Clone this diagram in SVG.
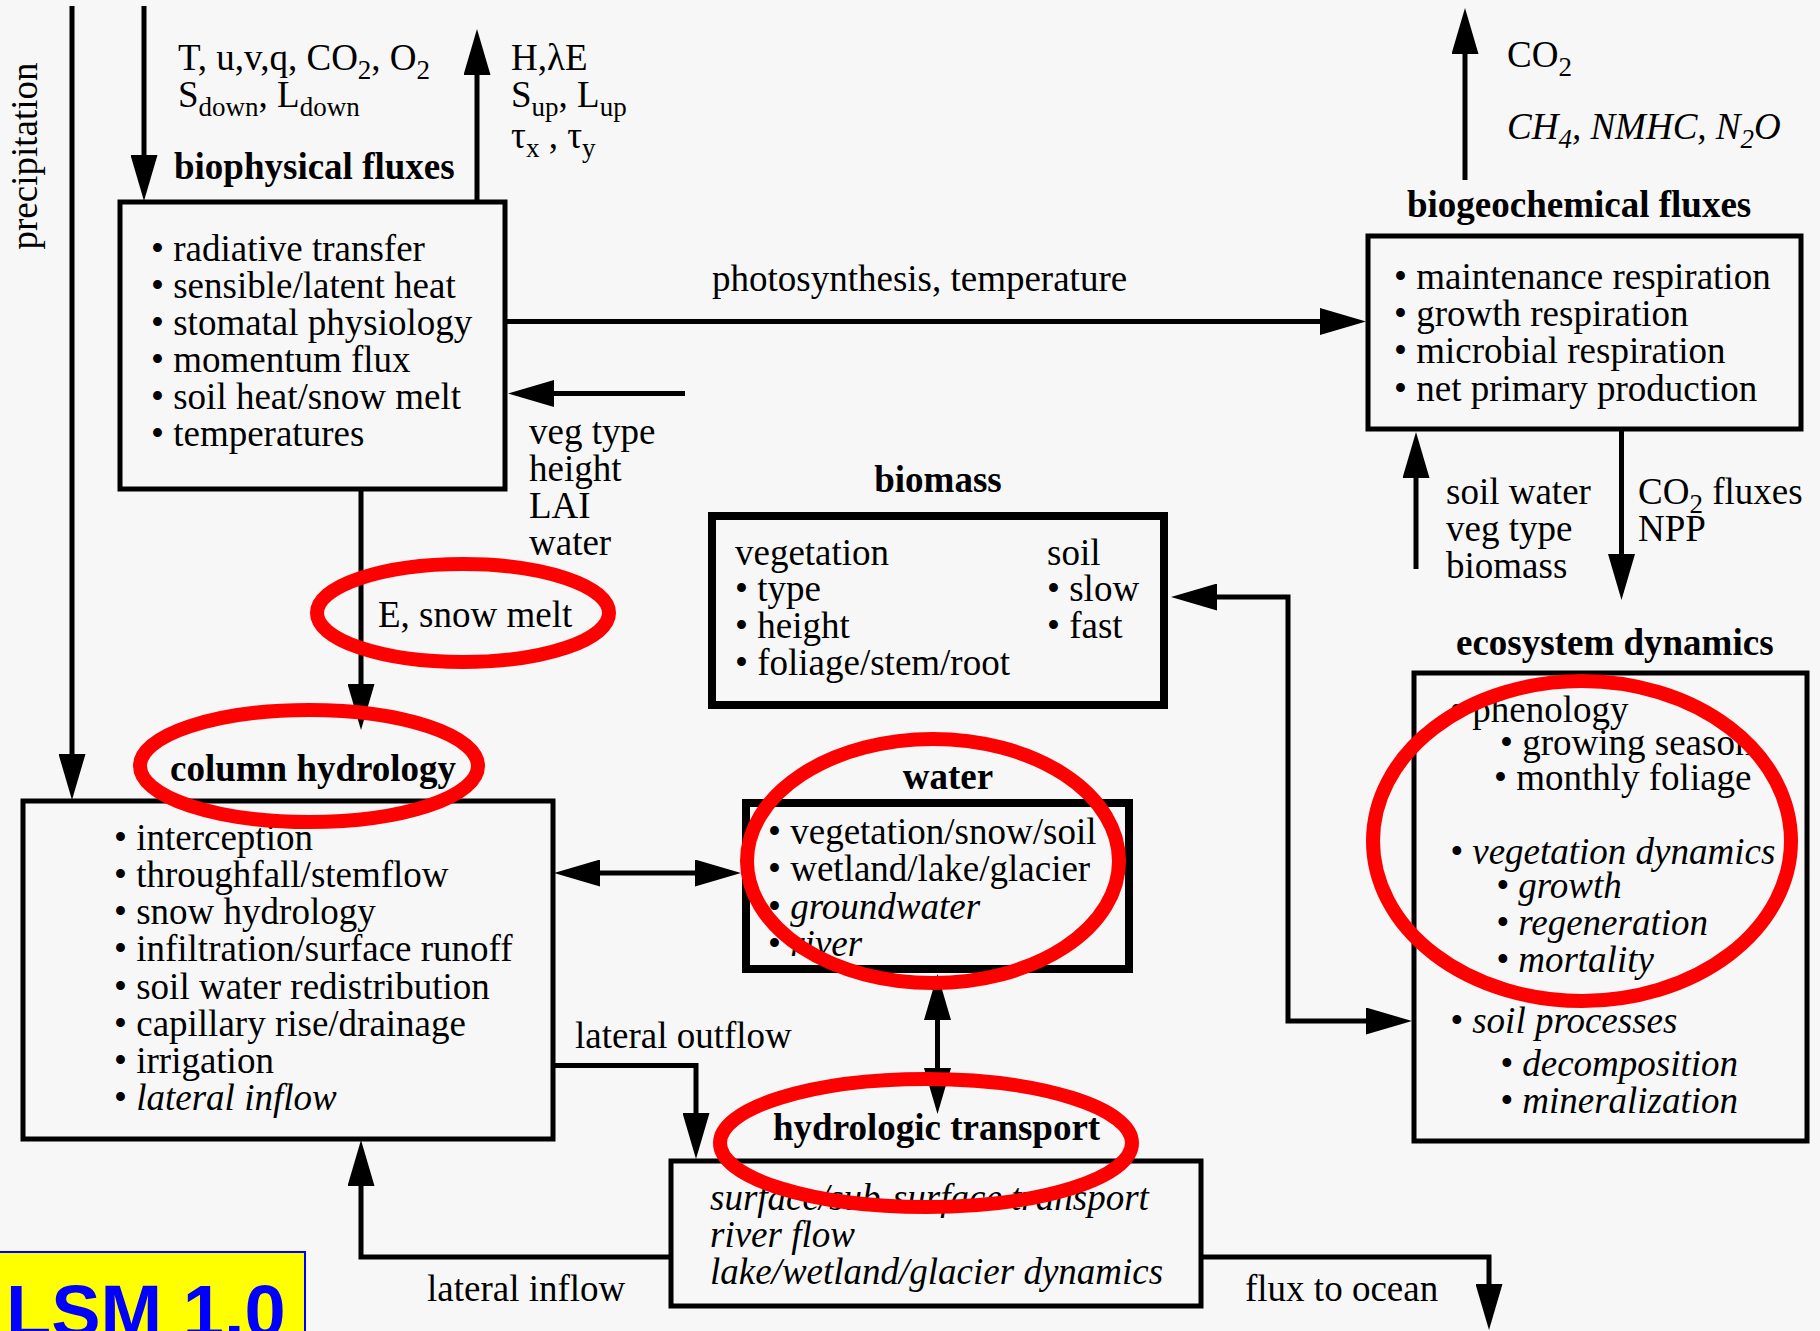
<svg xmlns="http://www.w3.org/2000/svg" width="1820" height="1331" viewBox="0 0 1820 1331">
<style>
.t{font-family:"Liberation Serif","Times New Roman",serif;font-size:37px;fill:#000}
.b{font-weight:bold}
.i{font-style:italic}
.sub{font-size:27px}
.box{fill:none;stroke:#000;stroke-width:5}
.box2{fill:none;stroke:#000;stroke-width:8}
.c{fill:none;stroke:#000;stroke-width:5}
.ring{fill:none;stroke:#ff0000;stroke-width:14}
.m{text-anchor:middle}
</style>
<defs>
<marker id="ah" viewBox="0 0 46 27" refX="1" refY="13.5" markerWidth="46" markerHeight="27" markerUnits="userSpaceOnUse" orient="auto-start-reverse">
<path d="M0,0 L46,13.5 L0,27 Z" fill="#000"/>
</marker>
</defs>
<rect x="0" y="0" width="1820" height="1331" fill="#f7f7f7"/>

<g id="connectors">
<path class="c" d="M72,6 V755" marker-end="url(#ah)"/>
<path class="c" d="M144,6 V156" marker-end="url(#ah)"/>
<path class="c" d="M477,202 V74" marker-end="url(#ah)"/>
<path class="c" d="M505,321.5 H1321" marker-end="url(#ah)"/>
<path class="c" d="M685,393.5 H553" marker-end="url(#ah)"/>
<path class="c" d="M361,489 V685" marker-end="url(#ah)"/>
<path class="c" d="M599,873 H696" marker-start="url(#ah)" marker-end="url(#ah)"/>
<path class="c" d="M1216,597 H1288 V1021 H1367" marker-start="url(#ah)" marker-end="url(#ah)"/>
<path class="c" d="M552,1065.5 H696 V1114" marker-end="url(#ah)"/>
<path class="c" d="M937.5,1019 V1069" marker-start="url(#ah)" marker-end="url(#ah)"/>
<path class="c" d="M671,1257 H361 V1185" marker-end="url(#ah)"/>
<path class="c" d="M1201,1257 H1489 V1285" marker-end="url(#ah)"/>
<path class="c" d="M1465,180 V53" marker-end="url(#ah)"/>
<path class="c" d="M1416,569 V477" marker-end="url(#ah)"/>
<path class="c" d="M1621.5,428 V555" marker-end="url(#ah)"/>
</g>

<g id="connector-labels" class="t">
<text transform="translate(37,156) rotate(-90)" class="t m">precipitation</text>
<text x="178" y="70" class="t">T, u,v,q, CO<tspan class="sub" dy="9">2</tspan><tspan dy="-9">, O</tspan><tspan class="sub" dy="9">2</tspan></text>
<text x="178" y="107" class="t">S<tspan class="sub" dy="9">down</tspan><tspan dy="-9">, L</tspan><tspan class="sub" dy="9">down</tspan></text>
<text x="511" y="70" class="t">H,λE</text>
<text x="511" y="107" class="t">S<tspan class="sub" dy="9">up</tspan><tspan dy="-9">, L</tspan><tspan class="sub" dy="9">up</tspan></text>
<text x="511" y="148" class="t">τ<tspan class="sub" dy="9">x</tspan><tspan dy="-9"> , τ</tspan><tspan class="sub" dy="9">y</tspan></text>
<text x="712" y="291" class="t">photosynthesis, temperature</text>
<text x="529" y="444" class="t">veg type</text>
<text x="529" y="481" class="t">height</text>
<text x="529" y="518" class="t">LAI</text>
<text x="529" y="555" class="t">water</text>
<text x="378" y="627" class="t">E, snow melt</text>
<text x="575" y="1048" class="t">lateral outflow</text>
<text x="427" y="1301" class="t">lateral inflow</text>
<text x="1245" y="1301" class="t">flux to ocean</text>
<text x="1507" y="67" class="t">CO<tspan class="sub" dy="9">2</tspan></text>
<text x="1507" y="139" class="t i">CH<tspan class="sub" dy="9">4</tspan><tspan dy="-9">, NMHC, N</tspan><tspan class="sub" dy="9">2</tspan><tspan dy="-9">O</tspan></text>
<text x="1446" y="504" class="t">soil water</text>
<text x="1446" y="541" class="t">veg type</text>
<text x="1446" y="578" class="t">biomass</text>
<text x="1638" y="504" class="t">CO<tspan class="sub" dy="9">2</tspan><tspan dy="-9"> fluxes</tspan></text>
<text x="1638" y="541" class="t">NPP</text>
</g>

<g id="biophysical-fluxes">
<text x="174" y="179" class="t b">biophysical fluxes</text>
<rect class="box" x="120" y="202" width="385" height="287"/>
<text x="151" y="261" class="t">• radiative transfer</text>
<text x="151" y="298" class="t">• sensible/latent heat</text>
<text x="151" y="335" class="t">• stomatal physiology</text>
<text x="151" y="372" class="t">• momentum flux</text>
<text x="151" y="409" class="t">• soil heat/snow melt</text>
<text x="151" y="446" class="t">• temperatures</text>
</g>

<g id="column-hydrology">
<text x="170" y="781" class="t b">column hydrology</text>
<rect class="box" x="23" y="801" width="530" height="338"/>
<text x="114" y="850" class="t">• interception</text>
<text x="114" y="887" class="t">• throughfall/stemflow</text>
<text x="114" y="924" class="t">• snow hydrology</text>
<text x="114" y="961" class="t">• infiltration/surface runoff</text>
<text x="114" y="999" class="t">• soil water redistribution</text>
<text x="114" y="1036" class="t">• capillary rise/drainage</text>
<text x="114" y="1073" class="t">• irrigation</text>
<text x="114" y="1110" class="t">• <tspan class="i">lateral inflow</tspan></text>
</g>

<g id="biomass">
<text x="938" y="492" class="t b m">biomass</text>
<rect class="box2" x="712" y="516" width="452" height="189"/>
<text x="735" y="565" class="t">vegetation</text>
<text x="735" y="601" class="t">• type</text>
<text x="735" y="638" class="t">• height</text>
<text x="735" y="675" class="t">• foliage/stem/root</text>
<text x="1047" y="565" class="t">soil</text>
<text x="1047" y="601" class="t">• slow</text>
<text x="1047" y="638" class="t">• fast</text>
</g>

<g id="water">
<text x="948" y="789" class="t b m">water</text>
<rect class="box2" x="746" y="803" width="383" height="166"/>
<text x="768" y="844" class="t">• vegetation/snow/soil</text>
<text x="768" y="881" class="t">• wetland/lake/glacier</text>
<text x="768" y="919" class="t">• <tspan class="i">groundwater</tspan></text>
<text x="768" y="956" class="t">• <tspan class="i">river</tspan></text>
</g>

<g id="biogeochemical-fluxes">
<text x="1407" y="217" class="t b">biogeochemical fluxes</text>
<rect class="box" x="1368" y="236" width="433" height="193"/>
<text x="1394" y="289" class="t">• maintenance respiration</text>
<text x="1394" y="326" class="t">• growth respiration</text>
<text x="1394" y="363" class="t">• microbial respiration</text>
<text x="1394" y="401" class="t">• net primary production</text>
</g>

<g id="ecosystem-dynamics">
<text x="1456" y="655" class="t b">ecosystem dynamics</text>
<rect class="box" x="1414" y="673" width="393" height="468"/>
<text x="1450" y="722" class="t">• phenology</text>
<text x="1500" y="755" class="t">• growing season</text>
<text x="1494" y="790" class="t">• monthly foliage</text>
<text x="1450" y="864" class="t i">• vegetation dynamics</text>
<text x="1496" y="898" class="t i">• growth</text>
<text x="1496" y="935" class="t i">• regeneration</text>
<text x="1496" y="972" class="t i">• mortality</text>
<text x="1450" y="1033" class="t i">• soil processes</text>
<text x="1500" y="1076" class="t i">• decomposition</text>
<text x="1500" y="1113" class="t i">• mineralization</text>
</g>

<g id="hydrologic-transport">
<text x="773" y="1140" class="t b">hydrologic transport</text>
<rect class="box" x="671" y="1161" width="530" height="145"/>
<text x="710" y="1210" class="t i">surface/sub-surface transport</text>
<text x="710" y="1247" class="t i">river flow</text>
<text x="710" y="1284" class="t i">lake/wetland/glacier dynamics</text>
</g>

<g id="lsm-label">
<rect x="-2" y="1252" width="307" height="90" fill="#ffff00" stroke="#0000ff" stroke-width="2"/>
<text x="6" y="1337" font-family="Liberation Sans, Arial, sans-serif" font-weight="bold" font-size="74" fill="#0000ff">LSM 1.0</text>
</g>

<g id="highlights">
<ellipse class="ring" cx="463" cy="613" rx="146" ry="49"/>
<ellipse class="ring" cx="309" cy="766" rx="169" ry="56"/>
<ellipse class="ring" cx="933" cy="861" rx="186" ry="122"/>
<ellipse class="ring" cx="1582" cy="841" rx="209" ry="160"/>
<ellipse class="ring" cx="926" cy="1143" rx="206" ry="64"/>
</g>
</svg>
